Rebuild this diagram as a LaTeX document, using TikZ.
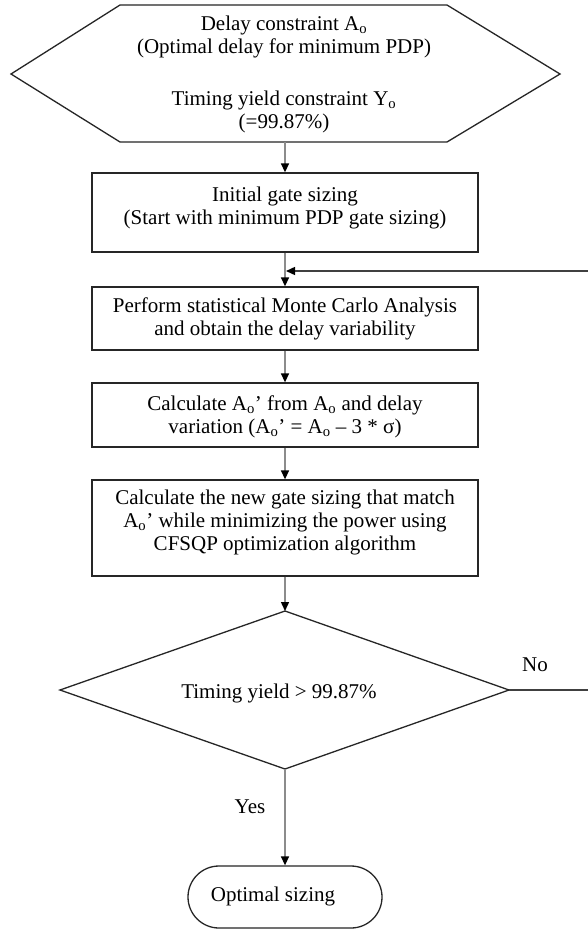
\documentclass[tikz,border=0pt]{standalone}
\usepackage{fontspec}
\setmainfont{Liberation Serif}
\usetikzlibrary{arrows.meta}
\begin{document}
\begin{tikzpicture}[x=1pt,y=-1pt,
  line/.style={draw=black!85, line width=1.3pt},
  box/.style={line, rectangle, minimum width=386pt, inner sep=0pt},
  txt/.style={font=\fontsize{21}{23}\selectfont, align=center, inner sep=0pt},
  arr/.style={draw=black!45, line width=1.4pt, -{Triangle[length=9pt,width=8pt,color=black]}},
  fbarr/.style={draw=black!75, line width=1.4pt, -{Triangle[length=9pt,width=8pt,color=black]}},
]
\useasboundingbox (0,0) rectangle (587,930);
\fill[white] (0,0) rectangle (587,930);

% start hexagon
\coordinate (h1) at (120,5);
\coordinate (h2) at (447,5);
\coordinate (h3) at (560,74);
\coordinate (h4) at (447,142);
\coordinate (h5) at (120,142);
\coordinate (h6) at (11,74);
\draw[line] (h1)--(h2)--(h3)--(h4)--(h5)--(h6)--cycle;
\coordinate (hb) at (285,142);
\node[txt] (ht1) at (284,37) {Delay constraint A\textsubscript{o}\\(Optimal delay for minimum PDP)};
\node[txt] (ht2) at (284,112) {Timing yield constraint Y\textsubscript{o}\\(=99.87\%)};

% boxes
\node[box, minimum height=79pt] (b1) at (285,212.5) {};
\node[txt] (t1) at (285,208) {Initial gate sizing\\(Start with minimum PDP gate sizing)};

\node[box, minimum height=63pt] (b2) at (285,318.5) {};
\node[txt] (t2) at (285,319) {Perform statistical Monte Carlo Analysis\\and obtain the delay variability};

\node[box, minimum height=64pt] (b3) at (285,415) {};
\node[txt] (t3) at (285,417) {Calculate A\textsubscript{o}’ from A\textsubscript{o} and delay\\variation (A\textsubscript{o}’ = A\textsubscript{o} – 3 * σ)};

\node[box, minimum height=96pt] (b4) at (285,528) {};
\node[txt] (t4) at (285,522) {Calculate the new gate sizing that match\\A\textsubscript{o}’ while minimizing the power using\\CFSQP optimization algorithm};

% decision diamond
\coordinate (dt) at (285,611);
\coordinate (dr) at (509,690);
\coordinate (db) at (285,769);
\coordinate (dl) at (60,690);
\draw[line] (dt)--(dr)--(db)--(dl)--cycle;
\node[txt] (dtext) at (279,693) {Timing yield > 99.87\%};

% terminal
\node[line, minimum width=194pt, minimum height=62pt, rounded corners=31pt, inner sep=0pt] (end) at (285,897) {};
\node[txt] (endt) at (273,896) {Optimal sizing};

% connectors
\draw[arr] (hb) -- (b1.north);
\draw[arr] (b1.south) -- (b2.north);
\draw[arr] (b2.south) -- (b3.north);
\draw[arr] (b3.south) -- (b4.north);
\draw[arr] (b4.south) -- (dt);
\draw[arr] (db) -- (end.north);

\coordinate (c1) at (594,690);
\coordinate (c2) at (594,271);
\coordinate (fb) at (286,271);
\draw[fbarr] (dr) -- (c1) -- (c2) -- (fb);

\node[txt] (no) at (535,665) {No};
\node[txt] (yes) at (250,807) {Yes};
\end{tikzpicture}
\end{document}
